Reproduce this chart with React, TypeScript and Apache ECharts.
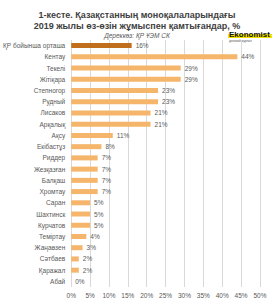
import React, { useEffect, useRef } from "react";
import * as echarts from "echarts";

const categories = [
  "ҚР бойынша орташа", "Кентау", "Текелі", "Жітіқара", "Степногор", "Рудный",
  "Лисаков", "Арқалық", "Ақсу", "Екібастұз", "Риддер", "Жезқазған", "Балқаш",
  "Хромтау", "Саран", "Шахтинск", "Курчатов", "Теміртау", "Жаңаөзен",
  "Сәтбаев", "Қаражал", "Абай",
];
const values = [16, 44, 29, 29, 23, 23, 21, 21, 11, 8, 7, 7, 7, 7, 5, 5, 5, 4, 3, 2, 2, 0];
const highlightIndex = 0;
const titleLines = ["1-кесте. Қазақстанның моноқалаларындағы", "2019 жылы өз-өзін жұмыспен қамтығандар, %"];
const sourceText = "Дереккөз: ҚР ҰЭМ СК";

export default function App() {
  const ref = useRef<HTMLDivElement>(null);
  useEffect(() => {
    const chart = echarts.init(ref.current!, null, { renderer: "svg" });
    const font = "Liberation Sans, Arial, sans-serif";
    const narrow = "Liberation Sans Narrow, Arial Narrow, sans-serif";
    chart.setOption({
      animation: false,
      backgroundColor: "#ffffff",
      title: [
        {
          text: titleLines.join("\n"),
          left: "center",
          top: 4,
          textStyle: { fontFamily: narrow, fontSize: 9, fontWeight: "bold", color: "#404040", lineHeight: 11.5 },
        },
        {
          text: sourceText,
          left: "center",
          top: 27,
          textStyle: { fontFamily: font, fontSize: 6.5, fontStyle: "italic", fontWeight: "normal", color: "#595959" },
        },
      ],
      graphic: [
        { type: "rect", shape: { x: 228, y: 34, width: 44, height: 4 }, style: { fill: "#f2e200" } },
        {
          type: "text", x: 229, y: 30,
          style: { text: "Ekonomist", fontFamily: font, fontSize: 8, fontWeight: "bold", fill: "#111111" },
        },
        {
          type: "text", x: 229, y: 39,
          style: { text: "деловой журнал", fontFamily: font, fontSize: 3, fill: "#555555" },
        },
      ],
      grid: { left: 66, right: 14, top: 40, bottom: 13 },
      xAxis: {
        type: "value",
        min: 0,
        max: 50,
        interval: 5,
        axisLine: { show: false },
        axisTick: { show: false },
        splitLine: { show: true, lineStyle: { color: "#d9d9d9", width: 1 } },
        axisLabel: { formatter: "{value}%", fontFamily: font, fontSize: 6.5, color: "#595959", margin: 5 },
      },
      yAxis: {
        type: "category",
        data: categories,
        inverse: true,
        axisLine: { show: false },
        axisTick: { show: false },
        axisLabel: { fontFamily: font, fontSize: 6.5, color: "#595959", margin: 6 },
      },
      series: [
        {
          type: "bar",
          data: values.map((v, i) => ({
            value: v,
            itemStyle: { color: i === highlightIndex ? "#c06d1c" : "#f5b56b" },
          })),
          barWidth: 5,
          label: {
            show: true,
            position: "right",
            distance: 4,
            formatter: "{c}%",
            fontFamily: font,
            fontSize: 6.5,
            color: "#595959",
          },
        },
      ],
    });
    return () => chart.dispose();
  }, []);
  return <div ref={ref} style={{ width: 274, height: 300, position: "absolute", left: 0, top: 0 }} />;
}
